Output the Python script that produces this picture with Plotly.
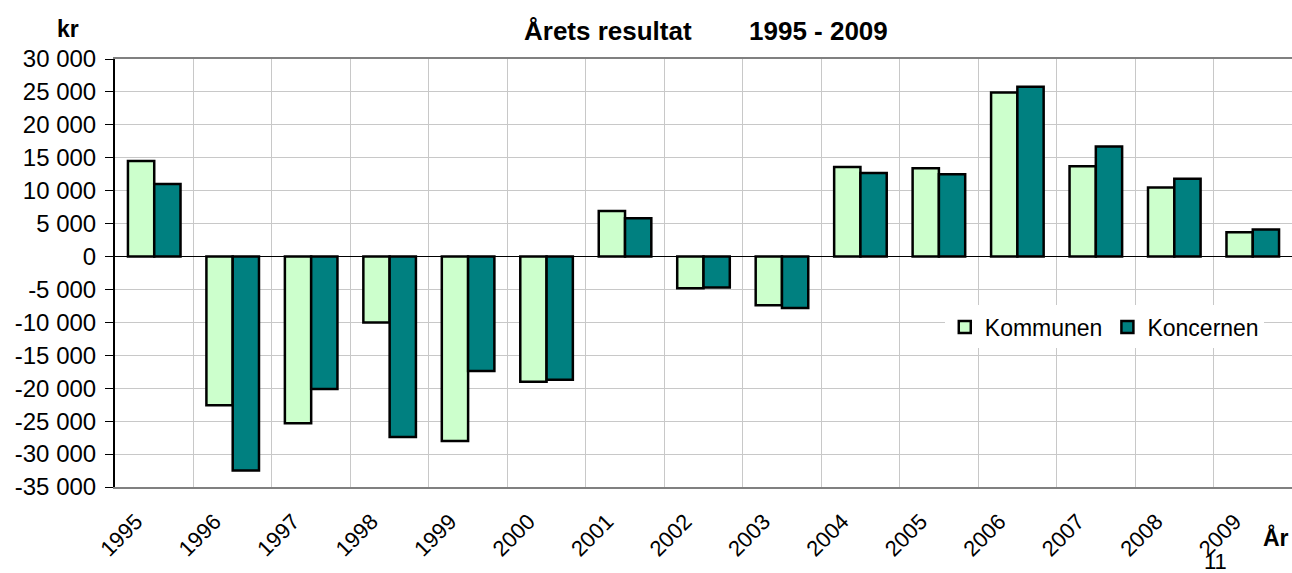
import plotly.graph_objects as go

years = ["1995", "1996", "1997", "1998", "1999", "2000", "2001", "2002",
         "2003", "2004", "2005", "2006", "2007", "2008", "2009"]
kommunen = [14500, -22600, -25300, -10000, -28000, -19000, 6900, -4800,
            -7400, 13600, 13400, 24900, 13700, 10500, 3700]
koncernen = [11000, -32500, -20100, -27400, -17400, -18700, 5800, -4700,
             -7800, 12700, 12500, 25800, 16700, 11800, 4100]
y_tickvals = [30000, 25000, 20000, 15000, 10000, 5000, 0, -5000, -10000,
              -15000, -20000, -25000, -30000, -35000]
y_ticktext = ["30 000", "25 000", "20 000", "15 000", "10 000", "5 000", "0",
              "-5 000", "-10 000", "-15 000", "-20 000", "-25 000", "-30 000", "-35 000"]

ymin, ymax = -35000, 30000
FONT = "Arial, Liberation Sans, sans-serif"

fig = go.Figure()
fig.add_trace(go.Bar(name="Kommunen", x=years, y=kommunen,
                     marker=dict(color="#CCFFCC", line=dict(color="black", width=2.5))))
fig.add_trace(go.Bar(name="Koncernen", x=years, y=koncernen,
                     marker=dict(color="#008080", line=dict(color="black", width=2.5))))

n = len(years)
fig.update_layout(
    width=1292, height=573,
    margin=dict(l=115, r=0, t=59, b=86, autoexpand=False),
    paper_bgcolor="white", plot_bgcolor="white",
    barmode="group", bargap=0.33, bargroupgap=0,
    font=dict(family=FONT, size=22, color="black"),
    showlegend=True,
    legend=dict(orientation="h", x=0.705, xanchor="left", y=0.374, yanchor="middle",
                bgcolor="white", font=dict(size=23, family=FONT), traceorder="normal",
                itemwidth=30),
    xaxis=dict(type="category", tickson="boundaries", showgrid=True,
               gridcolor="#c8c8c8", gridwidth=1, ticks="", tickangle=-45,
               tickfont=dict(size=22, family=FONT),
               showline=True, linecolor="#808080", linewidth=2, mirror=True,
               range=[-0.5, n - 0.5], ticklabelstandoff=11, ticklabelshift=-18),
    xaxis2=dict(overlaying="x", anchor="free", position=(0 - ymin) / (ymax - ymin),
                type="linear", range=[-0.5, n - 0.5],
                tickvals=[i + 0.5 for i in range(n - 1)],
                ticks="outside", ticklen=7, tickcolor="black", tickwidth=1,
                showticklabels=False, showgrid=False, zeroline=False, showline=False),
    yaxis=dict(range=[ymin, ymax], tickvals=y_tickvals, ticktext=y_ticktext,
               showgrid=True, gridcolor="#c8c8c8", gridwidth=1,
               zeroline=True, zerolinecolor="black", zerolinewidth=1,
               showline=True, linecolor="black", linewidth=2,
               ticks="outside", ticklen=8, tickcolor="black", tickwidth=1,
               tickfont=dict(size=24, family=FONT), ticklabelstandoff=4),
    annotations=[
        dict(text="<b>Årets resultat</b>", xref="paper", yref="paper", x=0.419, y=1.065,
             showarrow=False, xanchor="center", yanchor="middle", font=dict(size=26)),
        dict(text="<b>1995 - 2009</b>", xref="paper", yref="paper", x=0.598, y=1.065,
             showarrow=False, xanchor="center", yanchor="middle", font=dict(size=26)),
        dict(text="<b>kr</b>", xref="paper", yref="paper", x=-0.04, y=1.070,
             showarrow=False, xanchor="center", yanchor="middle", font=dict(size=23)),
        dict(text="<b>År</b>", xref="paper", yref="paper", x=0.986, y=-0.119,
             showarrow=False, xanchor="center", yanchor="middle", font=dict(size=23)),
        dict(text="11", xref="paper", yref="paper", x=0.935, y=-0.174,
             showarrow=False, xanchor="center", yanchor="middle", font=dict(size=22)),
    ],
)

fig.write_html("out.html", config={"displayModeBar": False},
               post_script="document.body.style.margin='0';document.body.style.overflow='hidden';")
